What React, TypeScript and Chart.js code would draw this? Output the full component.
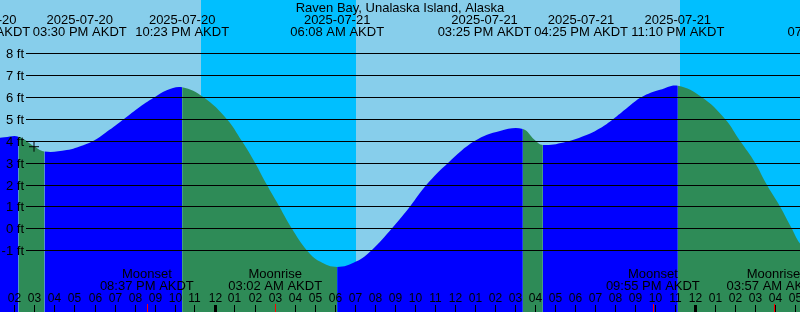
import React, { useEffect, useRef } from "react";
import { Chart, registerables } from "chart.js";

Chart.register(...registerables);

// Hours are measured from 2025-07-21 00:00 AKDT
const VIEW_START_HOUR = -10.725;
const VIEW_END_HOUR = 29.275;
const FEET_MIN = -3.826;
const FEET_MAX = 10.437;

const tideHours = [
  -11.2, -10.5, -9.8, -9.0, -8.5, -7.39, -6.56, -6.0, -5.25, -4.525, -3.725, -2.975, -2.39,
  -1.617, -0.56, 0.61, 1.36, 2.025, 2.61, 3.24, 3.86, 4.61, 5.275, 6.133, 7.075, 7.86, 8.875,
  9.775, 10.61, 11.69, 13.025, 14.275, 15.417, 16.0, 16.417, 17.6, 18.6, 19.275, 19.94, 20.61,
  21.36, 22.275, 23.167, 24.36, 25.525, 26.275, 27.025, 27.61, 28.275, 28.86, 29.275, 30.2,
  31.0, 32.0,
];
const tideFeet = [
  4.1, 4.16, 4.19, 3.74, 3.51, 3.58, 3.8, 4.02, 4.5, 5.0, 5.56, 6.0, 6.31,
  6.45, 6.0, 5.0, 4.0, 3.0, 2.0, 1.0, 0.0, -1.0, -1.52, -1.77, -1.52, -1.0, 0.0,
  1.0, 2.0, 3.0, 4.0, 4.45, 4.54, 4.05, 3.81, 3.96, 4.26, 4.57, 5.0, 5.49,
  6.0, 6.33, 6.52, 6.0, 5.0, 4.0, 3.0, 2.0, 1.0, 0.0, -0.69, -1.5,
  -1.85, -1.6,
];

const feetTicks = [-1, 0, 1, 2, 3, 4, 5, 6, 7, 8];

const nightStarts = [-0.675, 23.275];
const nightEnds = [7.06, 40];

const eventHours = [-9.8, -8.5, -1.617, 6.133, 15.417, 16.417, 23.167, 31.0];
const eventDates = [
  "2025-07-20", "2025-07-20", "2025-07-20", "2025-07-21",
  "2025-07-21", "2025-07-21", "2025-07-21", "2025-07-22",
];
const eventTimes = [
  "02:13 PM AKDT", "03:30 PM AKDT", "10:23 PM AKDT", "06:08 AM AKDT",
  "03:25 PM AKDT", "04:25 PM AKDT", "11:10 PM AKDT", "07:00 AM AKDT",
];

const moonHours = [-3.383, 3.033, 21.917, 27.95];
const moonNames = ["Moonset", "Moonrise", "Moonset", "Moonrise"];
const moonTimes = ["08:37 PM AKDT", "03:02 AM AKDT", "09:55 PM AKDT", "03:57 AM AKDT"];

const nowHour = -9.025;
const nowFeet = 3.73;

const TITLE = "Raven Bay, Unalaska Island, Alaska";

const DAY = "#87CEEB";
const NIGHT = "#00BFFF";
const RISING = "#0000FF";
const FALLING = "#2E8B57";
const FONT = '13px "Liberation Sans", Arial, sans-serif';
const HOUR_FONT = '12px "Liberation Sans", Arial, sans-serif';

const skyPlugin = {
  id: "sky",
  beforeDraw(chart: any) {
    const { ctx, chartArea, scales } = chart;
    const xs = scales.x;
    ctx.save();
    ctx.fillStyle = DAY;
    ctx.fillRect(chartArea.left, chartArea.top, chartArea.right - chartArea.left, chartArea.bottom - chartArea.top);
    ctx.fillStyle = NIGHT;
    for (let i = 0; i < nightStarts.length; i++) {
      const a = Math.max(chartArea.left, Math.round(xs.getPixelForValue(nightStarts[i])));
      const b = Math.min(chartArea.right, Math.round(xs.getPixelForValue(nightEnds[i])));
      if (b > a) ctx.fillRect(a, chartArea.top, b - a, chartArea.bottom - chartArea.top);
    }
    ctx.restore();
  },
};

const overlayPlugin = {
  id: "overlay",
  afterDraw(chart: any) {
    const { ctx, chartArea, scales } = chart;
    const xs = scales.x;
    const ys = scales.y;
    ctx.save();
    ctx.strokeStyle = "#000";
    ctx.lineWidth = 1;
    ctx.fillStyle = "#000";
    ctx.font = FONT;
    ctx.textAlign = "right";
    ctx.textBaseline = "alphabetic";
    for (const f of feetTicks) {
      const y = Math.round(ys.getPixelForValue(f)) + 0.5;
      ctx.beginPath();
      ctx.moveTo(26, y);
      ctx.lineTo(chartArea.right, y);
      ctx.stroke();
      ctx.fillText(`${f} ft`, 24, y + 4);
    }

    ctx.textAlign = "center";
    ctx.fillText(TITLE, (chartArea.left + chartArea.right) / 2, 12);

    // tide event labels (spread apart when they would overlap)
    const W = 96.5;
    const lx = eventHours.map((h) => xs.getPixelForValue(h));
    for (let i = 0; i < lx.length - 1; i++) {
      if (lx[i + 1] - lx[i] < W) {
        const mid = (lx[i] + lx[i + 1]) / 2;
        lx[i] = mid - W / 2;
        lx[i + 1] = mid + W / 2;
      }
    }
    for (let i = 0; i < lx.length; i++) {
      ctx.fillText(eventDates[i], lx[i], 24);
      ctx.fillText(eventTimes[i], lx[i], 36);
    }

    for (let i = 0; i < moonHours.length; i++) {
      const x = xs.getPixelForValue(moonHours[i]);
      ctx.fillText(moonNames[i], x, 278);
      ctx.fillText(moonTimes[i], x, 290);
    }

    ctx.font = HOUR_FONT;
    const bottom = chartArea.bottom;
    for (let h = Math.ceil(VIEW_START_HOUR); h <= Math.floor(VIEW_END_HOUR); h++) {
      const x = Math.round(xs.getPixelForValue(h));
      const hod = ((h % 24) + 24) % 24;
      const h12 = hod % 12 === 0 ? 12 : hod % 12;
      ctx.fillStyle = "#000";
      ctx.fillText(String(h12).padStart(2, "0"), x + 0.5, 302);
      if (hod === 0) ctx.fillRect(x - 1, 305, 3, bottom - 305);
      else ctx.fillRect(x, 305, 1, bottom - 305);
    }
    ctx.fillStyle = "#FF0000";
    for (const h of moonHours) {
      const x = Math.round(xs.getPixelForValue(h));
      ctx.fillRect(x, 304, 1, bottom - 304);
    }
    ctx.restore();
  },
};

export default function App() {
  const ref = useRef<HTMLCanvasElement | null>(null);
  useEffect(() => {
    document.body.style.margin = "0";
    const canvas = ref.current;
    if (!canvas) return;
    const chart = new Chart(canvas, {
      type: "line",
      data: {
        datasets: [
          {
            data: tideHours.map((h, i) => ({ x: h, y: tideFeet[i] })),
            order: 2,
            fill: "start",
            borderWidth: 0,
            borderColor: "rgba(0,0,0,0)",
            backgroundColor: RISING,
            pointRadius: 0,
            tension: 0.4,
            segment: {
              backgroundColor: (c: any) => (c.p1.parsed.y >= c.p0.parsed.y ? RISING : FALLING),
            },
          } as any,
          {
            type: "scatter",
            order: 1,
            data: [{ x: nowHour, y: nowFeet }],
            pointStyle: "cross",
            pointRadius: 5,
            borderColor: "#000",
            backgroundColor: "#000",
            borderWidth: 1,
            showLine: false,
          } as any,
        ],
      },
      options: {
        animation: false,
        responsive: false,
        maintainAspectRatio: false,
        events: [],
        layout: { padding: 0, autoPadding: false },
        plugins: {
          legend: { display: false },
          tooltip: { enabled: false },
        },
        scales: {
          x: { type: "linear", min: VIEW_START_HOUR, max: VIEW_END_HOUR, display: false },
          y: { type: "linear", min: FEET_MIN, max: FEET_MAX, display: false },
        },
      },
      plugins: [skyPlugin, overlayPlugin],
    });
    return () => chart.destroy();
  }, []);
  return (
    <div style={{ width: 800, height: 312 }}>
      <canvas ref={ref} width={800} height={312} style={{ display: "block" }} />
    </div>
  );
}
